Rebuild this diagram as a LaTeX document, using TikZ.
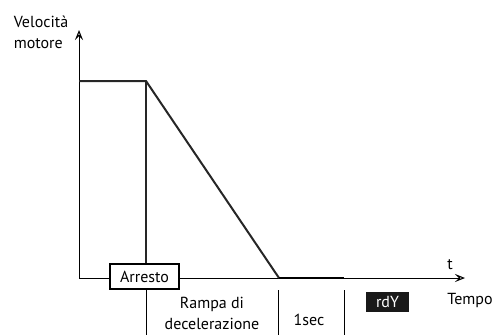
\documentclass[tikz,border=0pt]{standalone}
\usepackage{fontspec}
\setmainfont{PT Sans}
\usetikzlibrary{arrows.meta}
\begin{document}
\begin{tikzpicture}[x=1pt,y=-1pt,>={Stealth[open,length=10pt,width=8pt,inset=4pt]},
	lbl/.style={font=\fontsize{16}{21}\selectfont,inner sep=0pt},
	profile/.style={line width=2pt,black!85}]
	\useasboundingbox (0,0) rectangle (497,335);
	% axes
	\draw[->,line width=1pt] (79,278)--(79,30);
	\draw[->,line width=1pt] (79,278)--(465,278);
	\node[lbl] (t) at (450,265) {t};
	\node[lbl,align=left] (vel) at (41,32) {Velocità\\motore};
	\node[lbl] (tempo) at (470,300) {Tempo};
	% velocity profile
	\draw[profile] (79,81)--(146,81)--(279,278);
	\draw[profile] (146,81)--(146,264);
	\draw[line width=2.6pt] (279,278)--(344,278);
	% phases
	\node[lbl,draw,line width=1.5pt,fill=white,minimum width=69pt,minimum height=25pt] (arresto) at (144.5,276.5) {Arresto};
	\draw[line width=1pt] (146,289)--(146,335);
	\draw[line width=1pt] (278,290)--(278,335);
	\draw[line width=1pt] (344,290)--(344,335);
	\node[lbl,align=center] (rampa) at (212,313) {Rampa di\\decelerazione};
	\node[lbl] (sec) at (309,320) {1sec};
	\node[lbl,fill=black!90,text=white,minimum width=43pt,minimum height=20pt] (rdy) at (387.5,302) {rdY};
\end{tikzpicture}
\end{document}
